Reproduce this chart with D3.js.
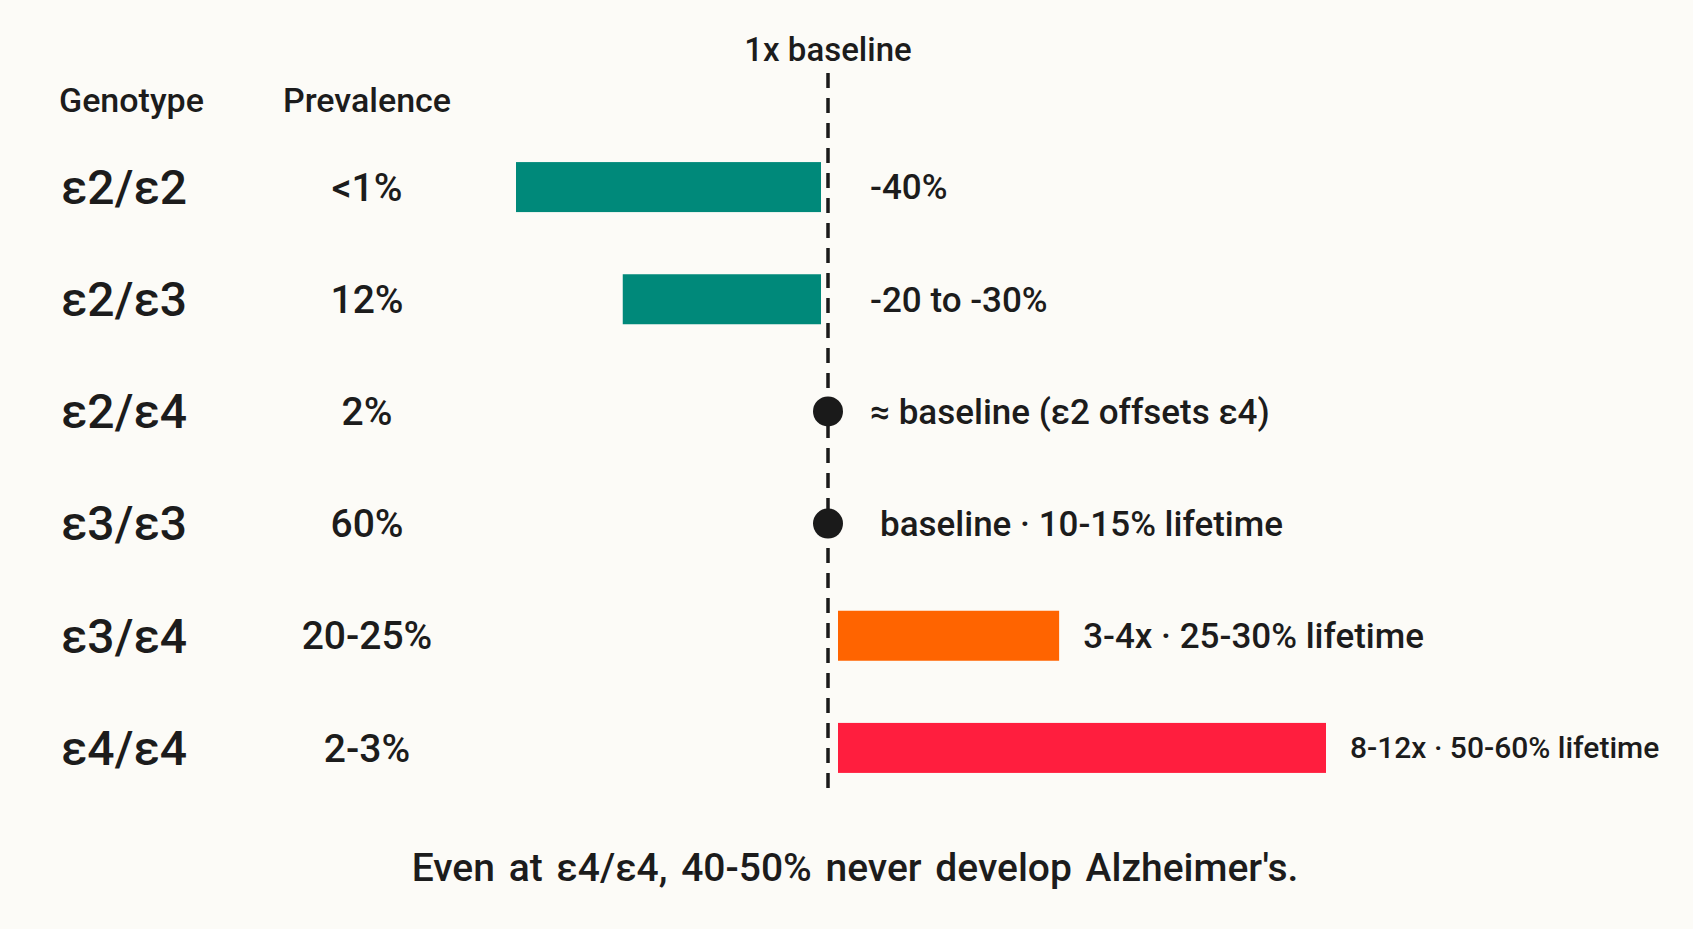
<!DOCTYPE html>
<html>
<head>
<meta charset="utf-8">
<script src="https://cdn.jsdelivr.net/npm/d3@7"></script>
<style>
  html, body { margin: 0; padding: 0; background: #fcfbf7; }
  text { font-family: Roboto, "Noto Sans", sans-serif; fill: #1c1c1c; }
</style>
</head>
<body>
<div id="apoe_chart"></div>
<script>
// rows, top to bottom
var genotypes = ["ε2/ε2", "ε2/ε3", "ε2/ε4", "ε3/ε3", "ε3/ε4", "ε4/ε4"];
var prevalence = ["<1%", "12%", "2%", "60%", "20-25%", "2-3%"];
// bar length (relative units, negative = protective)
var effect = [-40, -26, 0, 0, 29, 64];
var riskLabels = ["-40%", "-20 to -30%", "≈ baseline (ε2 offsets ε4)", "baseline · 10-15% lifetime",
                  "3-4x · 25-30% lifetime", "8-12x · 50-60% lifetime"];
var riskGroup = ["protective", "protective", "neutral", "neutral", "elevated", "high"];

var width = 1693, height = 929;

var svg = d3.select("#apoe_chart")
  .append("svg")
    .attr("width", width)
    .attr("height", height);

var color = d3.scaleOrdinal()
  .domain(["protective", "neutral", "elevated", "high"])
  .range(["#00897a", "#1a1a1a", "#ff6400", "#ff1e3e"]);

// row centres
var y = d3.scalePoint()
  .domain(genotypes)
  .range([131, 804])
  .padding(0.5);

// bar length scale
var len = d3.scaleLinear()
  .domain([0, 40])
  .range([0, 305]);

var x0 = 828;       // 1x baseline
var barH = 50;

// baseline line
svg.append("line")
  .attr("x1", x0).attr("x2", x0)
  .attr("y1", 73).attr("y2", 797)
  .attr("stroke", "#1a1a1a")
  .attr("stroke-width", 3.5)
  .attr("stroke-dasharray", "15,10");

svg.append("text")
  .attr("x", x0)
  .attr("y", 49)
  .attr("text-anchor", "middle")
  .attr("dy", "0.35em")
  .style("font-size", "33px")
  .style("font-weight", 500)
  .text("1x baseline");

// column headers
svg.append("text").attr("x", 59).attr("y", 100).attr("dy", "0.35em")
  .style("font-size", "34px").style("font-weight", 500).text("Genotype");
svg.append("text").attr("x", 367).attr("y", 100).attr("dy", "0.35em")
  .attr("text-anchor", "middle")
  .style("font-size", "34px").style("font-weight", 500).text("Prevalence");

var rows = genotypes.map(function(g, i) {
  return {g: g, prev: prevalence[i], v: effect[i], label: riskLabels[i], grp: riskGroup[i]};
});

// genotype labels
svg.selectAll(".geno")
  .data(rows)
  .enter()
  .append("text")
    .attr("class", "geno")
    .attr("x", 61)
    .attr("y", function(d) { return y(d.g); })
    .attr("dy", "0.35em")
    .style("font-size", "48px")
    .style("font-weight", 500)
    .text(function(d) { return d.g; });

// prevalence
svg.selectAll(".prev")
  .data(rows)
  .enter()
  .append("text")
    .attr("class", "prev")
    .attr("x", 367)
    .attr("y", function(d) { return y(d.g); })
    .attr("dy", "0.35em")
    .attr("text-anchor", "middle")
    .style("font-size", "39px")
    .style("font-weight", 500)
    .text(function(d) { return d.prev; });

// bars
svg.selectAll(".bar")
  .data(rows.filter(function(d) { return d.v !== 0; }))
  .enter()
  .append("rect")
    .attr("class", "bar")
    .attr("x", function(d) { return d.v < 0 ? x0 - 7 - len(-d.v) : x0 + 10; })
    .attr("y", function(d) { return y(d.g) - barH / 2; })
    .attr("width", function(d) { return len(Math.abs(d.v)); })
    .attr("height", barH)
    .style("fill", function(d) { return color(d.grp); });

// baseline dots
svg.selectAll(".dot")
  .data(rows.filter(function(d) { return d.v === 0; }))
  .enter()
  .append("circle")
    .attr("class", "dot")
    .attr("cx", x0)
    .attr("cy", function(d) { return y(d.g); })
    .attr("r", 15)
    .style("fill", color("neutral"));

// risk labels
svg.selectAll(".risk")
  .data(rows)
  .enter()
  .append("text")
    .attr("class", "risk")
    .attr("x", function(d, i) {
      if (d.v > 0) return x0 + 10 + len(d.v) + 24;
      return x0 + (i === 3 ? 52 : 42);
    })
    .attr("y", function(d) { return y(d.g); })
    .attr("dy", "0.35em")
    .style("font-size", function(d) { return d.grp === "high" ? "30px" : "35px"; })
    .style("font-weight", 500)
    .text(function(d) { return d.label; });

// footnote
svg.append("text")
  .attr("x", 855)
  .attr("y", 867)
  .attr("dy", "0.35em")
  .attr("text-anchor", "middle")
  .style("font-size", "39px")
  .style("font-weight", 500)
  .style("word-spacing", "4px")
  .text("Even at ε4/ε4, 40-50% never develop Alzheimer's.");
</script>
</body>
</html>
